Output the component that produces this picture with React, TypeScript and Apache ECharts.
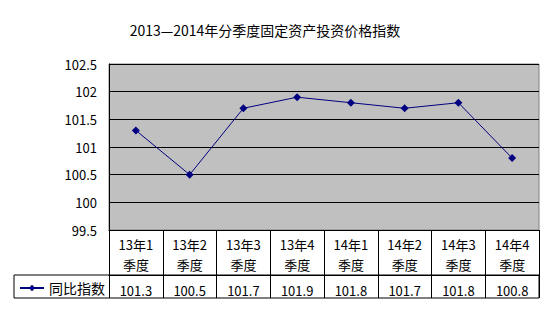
import React, { useEffect, useRef } from "react";
import * as echarts from "echarts";

const categories = ["13年1\n季度", "13年2\n季度", "13年3\n季度", "13年4\n季度", "14年1\n季度", "14年2\n季度", "14年3\n季度", "14年4\n季度"];
const seriesName = "同比指数";
const values = [101.3, 100.5, 101.7, 101.9, 101.8, 101.7, 101.8, 100.8];
const valueLabels = ["101.3", "100.5", "101.7", "101.9", "101.8", "101.7", "101.8", "100.8"];
const title = "2013—2014年分季度固定资产投资价格指数";

const FONT = "'Noto Sans CJK SC', sans-serif";

export default function App() {
  const ref = useRef<HTMLDivElement>(null);
  useEffect(() => {
    if (!ref.current) return;
    const chart = echarts.init(ref.current, null, { renderer: "svg" });
    chart.setOption({
      animation: false,
      backgroundColor: "#ffffff",
      title: {
        text: title,
        left: 260,
        top: 18,
        textAlign: "center",
        textStyle: { fontFamily: FONT, fontSize: 14, fontWeight: "normal", color: "#000" },
      },
      legend: {
        data: [seriesName],
        left: 19,
        top: 281,
        padding: 0,
        itemWidth: 24,
        itemHeight: 8,
        textStyle: { fontFamily: FONT, fontSize: 14, color: "#000", padding: [0, 0, 0, 0] },
      },
      grid: {
        left: 109,
        right: 14,
        top: 64,
        bottom: 86,
        show: true,
        backgroundColor: "#c0c0c0",
        borderColor: "#808080",
        borderWidth: 1,
      },
      xAxis: [
        {
          type: "category",
          data: categories,
          boundaryGap: true,
          position: "bottom",
          axisLine: { show: true, lineStyle: { color: "#000", width: 1 } },
          axisTick: { show: true, length: 45, lineStyle: { color: "#000", width: 1 } },
          axisLabel: { fontFamily: FONT, fontSize: 13, color: "#000", lineHeight: 20, margin: 4, interval: 0 },
          splitLine: { show: false },
        },
        {
          type: "category",
          data: valueLabels,
          boundaryGap: true,
          position: "bottom",
          offset: 45,
          axisLine: { show: true, lineStyle: { color: "#000", width: 1 } },
          axisTick: { show: true, length: 23, lineStyle: { color: "#000", width: 1 } },
          axisLabel: { fontFamily: FONT, fontSize: 13, color: "#000", lineHeight: 20, margin: 5, interval: 0 },
          splitLine: { show: false },
        },
      ],
      yAxis: {
        type: "value",
        min: 99.5,
        max: 102.5,
        interval: 0.5,
        axisLine: { show: true, lineStyle: { color: "#000", width: 1 } },
        axisTick: { show: false },
        axisLabel: { fontFamily: FONT, fontSize: 13, color: "#000", margin: 12 },
        splitLine: { show: true, lineStyle: { color: "#000", width: 1 } },
      },
      graphic: [
        {
          type: "rect",
          shape: { x: 14, y: 275, width: 525, height: 23 },
          style: { fill: "none", stroke: "#000", lineWidth: 1 },
          silent: true,
        },
      ],
      series: [
        {
          name: seriesName,
          type: "line",
          xAxisIndex: 0,
          data: values,
          symbol: "diamond",
          symbolSize: 8,
          lineStyle: { color: "#000080", width: 1 },
          itemStyle: { color: "#000080" },
        },
      ],
    });
    return () => chart.dispose();
  }, []);
  return <div ref={ref} style={{ width: 553, height: 316, position: "absolute", left: 0, top: 0 }} />;
}
